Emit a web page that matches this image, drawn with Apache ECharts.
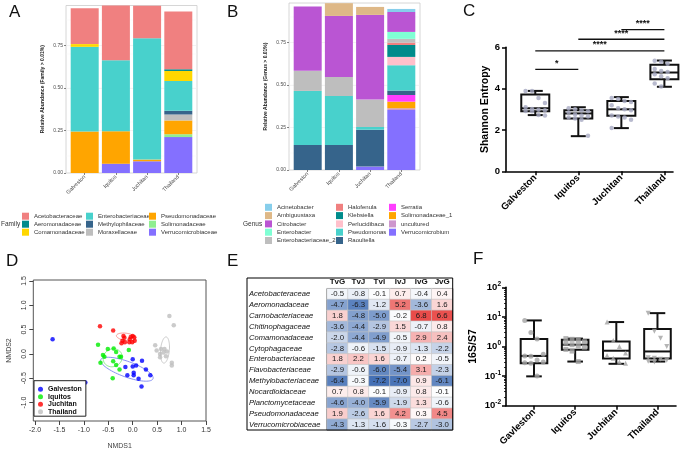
<!DOCTYPE html>
<html>
<head>
<meta charset="utf-8">
<script src="https://cdn.jsdelivr.net/npm/echarts@6/dist/echarts.min.js"></script>
<style>
  html, body { margin: 0; padding: 0; background: #fff; }
  #chart { width: 685px; height: 451px; }
</style>
</head>
<body>
<div id="chart"></div>
<script>
const FONT = "Liberation Sans, Arial, sans-serif";

const sites = ["Galveston", "Iquitos", "Juchitan", "Thailand"];
const sitesF = ["Gavleston", "Iquitos", "Juchitan", "Thailand"];
const siteTicks = [0, 1, 2, 3];

// A: family relative abundance, bottom -> top of each stack
const families = ["Verrucomicrobiaceae", "Solimonadaceae", "Pseudomonadaceae", "Moraxellaceae",
  "Methylophilaceae", "Enterobacteriaceae", "Comamonadaceae", "Aeromonadaceae", "Acetobacteraceae"];
const familyColors = ["#8470FF", "#90EE90", "#FFA500", "#BEBEBE", "#36648B", "#48D1CC", "#FFD700", "#008B8B", "#F08080"];
const familyValues = [
  [0, 0.055, 0.069, 0.211],
  [0, 0, 0, 0.017],
  [0.244, 0.191, 0.010, 0.081],
  [0, 0, 0, 0.035],
  [0, 0, 0, 0.022],
  [0.498, 0.417, 0.714, 0.175],
  [0.016, 0, 0, 0.059],
  [0, 0, 0, 0.010],
  [0.211, 0.325, 0.191, 0.339]
];

// B: genus relative abundance, bottom -> top
const genera = ["Verrucomicrobium", "uncultured", "Solimonadaceae_1", "Serratia", "Raoultella", "Pseudomonas",
  "Perlucidibaca", "Klebsiella", "Halofenula", "Enterobacteriaceae_2", "Enterobacter", "Citrobacter",
  "Ambiguustaxa", "Acinetobacter"];
const genusColors = ["#8470FF", "#CD96CD", "#FFA500", "#FF3EFF", "#36648B", "#48D1CC", "#FFC0CB", "#008B8B",
  "#F08080", "#BEBEBE", "#7FFFD4", "#BA55D3", "#DEB887", "#87CEEB"];
const genusValues = [
  [0, 0, 0.020, 0.353],
  [0, 0, 0, 0.010],
  [0, 0, 0, 0.039],
  [0, 0, 0, 0.039],
  [0.147, 0.147, 0.217, 0.026],
  [0.318, 0.288, 0.016, 0.149],
  [0, 0, 0, 0.049],
  [0, 0, 0, 0.070],
  [0, 0, 0, 0.014],
  [0.118, 0.112, 0.161, 0.022],
  [0, 0, 0, 0.041],
  [0.378, 0.359, 0.498, 0.117],
  [0, 0.075, 0.047, 0],
  [0, 0, 0, 0.018]
];
const abundanceTicks = [0, 0.25, 0.5, 0.75];

// C: Shannon entropy  [min, q1, median, q3, max]
const shannonStats = [
  [2.72, 2.91, 3.05, 3.72, 3.89],
  [1.70, 2.56, 2.80, 2.96, 3.10],
  [2.09, 2.69, 3.00, 3.40, 3.59],
  [4.09, 4.46, 4.78, 5.15, 5.36]
];
const shannonPoints = [
  [3.88, 3.88, 3.55, 3.30, 3.10, 3.02, 2.98, 2.95, 2.92, 2.90, 2.72, 2.70],
  [3.05, 3.00, 2.95, 2.90, 2.85, 2.75, 2.70, 2.65, 2.60, 2.55, 2.50, 1.72],
  [3.55, 3.50, 3.40, 3.35, 3.20, 3.05, 3.00, 2.95, 2.70, 2.65, 2.60, 2.50, 2.10],
  [5.35, 5.30, 5.20, 5.05, 4.95, 4.85, 4.80, 4.75, 4.70, 4.60, 4.50, 4.35, 4.25, 4.10]
];
const sigFrom = [0, 0, 1, 2];
const sigTo = [1, 3, 3, 3];
const sigLevel = [4.93, 5.83, 6.39, 6.86];
const sigText = ["*", "****", "****", "****"];

// D: NMDS ordination
const nmdsGalveston = [[-1.64, 0.30], [-0.97, -0.59], [0.0, -0.11], [0.19, -0.14], [-0.15, -0.27], [0.0, -0.26],
  [0.07, -0.24], [0.27, -0.32], [-0.11, -0.44], [0.02, -0.39], [0.02, -0.44], [0.12, -0.51], [0.36, -0.44], [0.18, -0.67]];
const nmdsIquitos = [[-0.71, 0.19], [-0.51, 0.10], [-0.39, 0.11], [-0.34, 0.04], [-0.61, -0.02], [-0.58, -0.06],
  [-0.27, -0.06], [-0.24, -0.06], [-0.08, 0.08], [-0.66, -0.18], [-0.40, -0.15], [-0.34, -0.23], [-0.27, -0.32], [-0.41, -0.50]];
const nmdsJuchitan = [[-0.67, 0.57], [-0.40, 0.48], [-0.19, 0.37], [-0.17, 0.33], [-0.21, 0.27], [-0.16, 0.24],
  [-0.07, 0.24], [-0.04, 0.35], [0.0, 0.37], [0.03, 0.34], [0.04, 0.27], [-0.01, 0.24], [-0.06, 0.30], [-0.23, 0.22]];
const nmdsThailand = [[0.75, 0.78], [0.84, 0.59], [0.46, 0.18], [0.49, 0.07], [0.58, 0.10], [0.65, 0.10], [0.56, 0.0],
  [0.63, 0.03], [0.70, 0.05], [0.56, -0.07], [0.68, -0.05], [0.80, -0.18], [0.80, -0.24]];
const nmdsColors = ["#0000FF", "#00EE00", "#FF0000", "#BEBEBE"];
const ellipseColors = ["#7b86f0", "#7de87d", "#f58a8a", "#c4c4c4"];
// [centre x, centre y, semi-axis a, semi-axis b, angle deg]
const nmdsEllipses = [
  [-0.12, -0.315, 0.57, 0.16, -20],
  [-0.41, -0.08, 0.20, 0.18, 30],
  [-0.135, 0.35, 0.20, 0.075, -8],
  [0.66, 0.08, 0.27, 0.09, 85]
];
const nmdsTicksX = [-2, -1.5, -1, -0.5, 0, 0.5, 1, 1.5];
const nmdsTicksY = [-1, -0.5, 0, 0.5, 1, 1.5];

// E: log fold-change table
const tableCols = ["TvG", "TvJ", "TvI", "IvJ", "IvG", "JvG"];
const tableRows = ["Acetobacteraceae", "Aeromonadaceae", "Carnobacteriaceae", "Chitinophagaceae", "Comamonadaceae",
  "Cytophagaceae", "Enterobacteriaceae", "Flavobacteriaceae", "Methylobacteriaceae", "Nocardioidaceae",
  "Planctomycetaceae", "Pseudomonadaceae", "Verrucomicrobiaceae"];
const tableValues = [
  [-0.5, -0.8, -0.1, 0.7, -0.4, 0.4],
  [-4.7, -6.3, -1.2, 5.2, -3.6, 1.6],
  [1.8, -4.8, -5.0, -0.2, 6.8, 6.6],
  [-3.6, -4.4, -2.9, 1.5, -0.7, 0.8],
  [-2.0, -4.4, -4.9, -0.5, 2.9, 2.4],
  [-2.8, -0.6, -1.5, -0.9, -1.3, -2.2],
  [1.8, 2.2, 1.6, -0.7, 0.2, -0.5],
  [-2.9, -0.6, -6.0, -5.4, 3.1, -2.3],
  [-6.4, -0.3, -7.2, -7.0, 0.9, -6.1],
  [0.7, 0.8, -0.1, -0.9, 0.8, -0.1],
  [-4.6, -4.0, -5.9, -1.9, 1.3, -0.6],
  [1.9, -2.6, 1.6, 4.2, 0.3, 4.5],
  [-4.3, -1.3, -1.6, -0.3, -2.7, -3.0]
];

// F: 16S/S7 ratio  [min, q1, median, q3, max]
const ratioStats = [
  [0.098, 0.27, 0.48, 1.78, 7.6],
  [0.31, 0.78, 1.15, 1.70, 1.85],
  [0.26, 0.39, 0.72, 1.48, 6.7],
  [0.31, 0.39, 0.68, 3.87, 13.4]
];
const ratioPoints = [
  [7.5, 3.0, 1.8, 0.55, 0.48, 0.47, 0.35, 0.30, 0.28, 0.27, 0.10],
  [1.85, 1.75, 1.60, 1.45, 1.30, 1.15, 1.05, 0.95, 0.80, 0.70, 0.31],
  [6.7, 1.6, 1.0, 0.60, 0.50, 0.40, 0.30, 0.27],
  [13.4, 3.3, 1.9, 1.0, 0.42, 0.40, 0.37, 0.34, 0.32, 0.30]
];
const ratioSymbols = ["circle", "rect", "triangle", "path://M0,0 L10,0 L5,9 Z"];

// ---------- helpers ----------
// bars live in grids 6 and 7 (category axes), panels 0 and 1 carry frame + labels
function stacked(names, colors, values, axis) {
  return names.map((n, k) => ({
    type: "bar", name: n, stack: "s" + axis, xAxisIndex: axis, yAxisIndex: axis,
    barWidth: 28, itemStyle: { color: colors[k] },
    data: values[k]
  }));
}

function boxSeries(stats, axis, halfBox, halfCap) {
  return {
    type: "custom", xAxisIndex: axis, yAxisIndex: axis, z: 3,
    encode: { x: 0, y: [1, 2, 3, 4, 5] },
    data: stats.map((s, i) => [i].concat(s)),
    renderItem(params, api) {
      const x = api.value(0);
      const p = [1, 2, 3, 4, 5].map((d) => api.coord([x, api.value(d)]));
      const cx = p[0][0];
      const st = { stroke: "#111", lineWidth: 2 };
      const ln = (x1, y1, x2, y2) => ({ type: "line", shape: { x1, y1, x2, y2 }, style: st });
      return {
        type: "group", children: [
          { type: "rect", shape: { x: cx - halfBox, y: p[3][1], width: halfBox * 2, height: p[1][1] - p[3][1] },
            style: { stroke: "#111", lineWidth: 2, fill: "none" } },
          ln(cx - halfBox, p[2][1], cx + halfBox, p[2][1]),
          ln(cx, p[3][1], cx, p[4][1]),
          ln(cx, p[1][1], cx, p[0][1]),
          ln(cx - halfCap, p[4][1], cx + halfCap, p[4][1]),
          ln(cx - halfCap, p[0][1], cx + halfCap, p[0][1])
        ]
      };
    }
  };
}

function spread(groups, step) {
  const out = [];
  groups.forEach((vals, g) => vals.forEach((v, i) => out.push([g + ((i % 4) - 1.5) * step, v, g])));
  return out;
}

const series = [];
series.push(...stacked(families, familyColors, familyValues, 6));
series.push(...stacked(genera, genusColors, genusValues, 7));

// C
series.push(boxSeries(shannonStats, 2, 14, 7.5));
series.push({
  type: "scatter", name: "shannonPts", xAxisIndex: 2, yAxisIndex: 2, z: 4,
  symbolSize: 4.5, itemStyle: { color: "#a6a9c2" },
  data: spread(shannonPoints, 0.15)
});
series.push({
  type: "custom", xAxisIndex: 2, yAxisIndex: 2, clip: false,
  encode: { x: [0, 1], y: 2 },
  data: sigFrom.map((f, i) => [f, sigTo[i], sigLevel[i], i]),
  renderItem(params, api) {
    const a = api.coord([api.value(0), api.value(2)]);
    const b = api.coord([api.value(1), api.value(2)]);
    return {
      type: "group", children: [
        { type: "line", shape: { x1: a[0], y1: a[1], x2: b[0], y2: b[1] }, style: { stroke: "#111", lineWidth: 1.3 } },
        { type: "text", style: { text: sigText[api.value(3)], x: (a[0] + b[0]) / 2, y: a[1] - 1.5,
          align: "center", verticalAlign: "bottom", font: "bold 9px " + FONT, fill: "#111" } }
      ]
    };
  }
});

// D
[nmdsGalveston, nmdsIquitos, nmdsJuchitan, nmdsThailand].forEach((pts, i) => {
  series.push({
    type: "scatter", name: sites[i], xAxisIndex: 3, yAxisIndex: 3, symbolSize: 4.5,
    itemStyle: { color: nmdsColors[i] }, data: pts
  });
});
series.push({
  type: "custom", xAxisIndex: 3, yAxisIndex: 3, encode: { x: 0, y: 1 },
  data: nmdsEllipses,
  renderItem(params, api) {
    const cx = api.value(0), cy = api.value(1), a = api.value(2), b = api.value(3);
    const ang = api.value(4) * Math.PI / 180;
    const pts = [];
    for (let k = 0; k <= 72; k++) {
      const t = k / 72 * 2 * Math.PI;
      const ex = a * Math.cos(t), ey = b * Math.sin(t);
      pts.push(api.coord([cx + ex * Math.cos(ang) - ey * Math.sin(ang), cy + ex * Math.sin(ang) + ey * Math.cos(ang)]));
    }
    return { type: "polyline", shape: { points: pts }, style: { stroke: ellipseColors[params.dataIndex], fill: null, lineWidth: 0.9 } };
  }
});

// E
const heatIndex = series.length;
const heatData = [];
tableValues.forEach((row, r) => row.forEach((v, c) => heatData.push([c, r, v])));
series.push({
  type: "heatmap", xAxisIndex: 4, yAxisIndex: 4, data: heatData,
  itemStyle: { borderColor: "#c4c4c4", borderWidth: 0.6 },
  label: { show: true, formatter: (p) => p.value[2].toFixed(1), fontSize: 7.8, color: "#1a1a1a", fontFamily: FONT },
  emphasis: { disabled: true }
});

// F
series.push(boxSeries(ratioStats, 5, 13.3, 7.8));
ratioPoints.forEach((vals, g) => {
  series.push({
    type: "scatter", name: "ratio" + g, xAxisIndex: 5, yAxisIndex: 5, z: 4,
    symbol: ratioSymbols[g], symbolSize: 5, itemStyle: { color: "#a3a3a3" },
    data: spread([vals], 0.15).map((d) => [d[0] + g, d[1]])
  });
});

// ---------- axes ----------
function abundanceX(grid) {
  return {
    gridIndex: grid, type: "value", min: -0.6, max: 3.6,
    axisLine: { show: false, onZero: false }, splitLine: { show: false },
    axisTick: { customValues: siteTicks, length: 2, lineStyle: { color: "#333", width: 0.6 } },
    axisLabel: { customValues: siteTicks, formatter: (v) => sites[v], rotate: 45, fontSize: 5.5,
      color: "#4d4d4d", margin: 3, fontFamily: FONT }
  };
}
function abundanceY(grid, max, title, gap) {
  return {
    gridIndex: grid, type: "value", min: 0, max: max,
    name: title, nameLocation: "middle", nameGap: gap,
    nameTextStyle: { fontSize: 5, fontWeight: "bold", color: "#1a1a1a", fontFamily: FONT },
    axisLine: { show: false, onZero: false },
    axisTick: { show: true, customValues: abundanceTicks, length: 2, lineStyle: { color: "#333", width: 0.6 } },
    axisLabel: { customValues: abundanceTicks, formatter: (v) => v.toFixed(2), fontSize: 5, color: "#4d4d4d",
      margin: 3, fontFamily: FONT },
    splitLine: { lineStyle: { color: "#ebebeb", width: 0.6 } },
    minorTick: { show: false, splitNumber: 2 },
    minorSplitLine: { show: true, lineStyle: { color: "#f5f5f5", width: 0.4 } }
  };
}
function barX(grid) {
  return { gridIndex: grid, type: "category", data: sites, show: false };
}
function barY(grid, max) {
  return { gridIndex: grid, type: "value", min: 0, max: max, show: false, splitLine: { show: false } };
}
const prismLine = { onZero: false, lineStyle: { color: "#000", width: 1.6 } };
function prismX(grid, names, min, max) {
  return {
    gridIndex: grid, type: "value", min: min, max: max,
    axisLine: prismLine, splitLine: { show: false },
    axisTick: { customValues: siteTicks, length: 4, lineStyle: { color: "#000", width: 1.5 } },
    axisLabel: { customValues: siteTicks, formatter: (v) => names[v], rotate: 45, fontSize: 9.5,
      fontWeight: "bold", color: "#000", margin: 5, fontFamily: FONT }
  };
}

const option = {
  animation: false,
  backgroundColor: "#fff",
  textStyle: { fontFamily: FONT },
  grid: [
    { left: 66, top: 5.5, width: 131, height: 167.5, show: true, borderColor: "#cccccc", borderWidth: 0.8 },
    { left: 289, top: 3, width: 131, height: 167, show: true, borderColor: "#cccccc", borderWidth: 0.8 },
    { left: 506, top: 47.3, width: 167, height: 124 },
    { left: 33.3, top: 280, width: 172.7, height: 142, show: true, borderColor: "#555", borderWidth: 1 },
    { left: 327, top: 288.6, width: 125.7, height: 141.4, show: true, borderColor: "#000", borderWidth: 1 },
    { left: 506, top: 287.3, width: 170, height: 118.4 },
    { left: 69.1, top: 5.5, width: 124.8, height: 167.5 },
    { left: 292.1, top: 3, width: 124.8, height: 167 }
  ],
  xAxis: [
    abundanceX(0),
    abundanceX(1),
    prismX(2, sites, -0.68, 3.2),
    {
      gridIndex: 3, type: "value", min: -2.035, max: 1.5,
      axisLine: { show: false, onZero: false }, splitLine: { show: false },
      axisTick: { customValues: nmdsTicksX, length: 4, lineStyle: { color: "#444" } },
      axisLabel: { customValues: nmdsTicksX, formatter: (v) => v.toFixed(1), fontSize: 7, color: "#333", margin: 6, fontFamily: FONT },
      name: "NMDS1", nameLocation: "middle", nameGap: 22,
      nameTextStyle: { fontSize: 7, color: "#444", fontFamily: FONT }
    },
    {
      gridIndex: 4, type: "category", data: tableCols, position: "top",
      axisLine: { show: false }, axisTick: { show: false }, splitLine: { show: false },
      axisLabel: { fontSize: 8, fontWeight: "bold", color: "#111", margin: 2.5, fontFamily: FONT }
    },
    prismX(5, sitesF, -0.68, 3.45),
    barX(6),
    barX(7)
  ],
  yAxis: [
    abundanceY(0, 0.985, "Relative Abundance (Family > 0.01%)", 21),
    abundanceY(1, 0.982, "Relative Abundance (Genus > 0.01%)", 21),
    {
      gridIndex: 2, type: "value", min: 0, max: 6, interval: 2,
      axisLine: Object.assign({ show: true }, prismLine), splitLine: { show: false },
      axisTick: { show: true, length: 4, lineStyle: { color: "#000", width: 1.5 } },
      axisLabel: { fontSize: 9.5, fontWeight: "bold", color: "#000", margin: 6, fontFamily: FONT },
      name: "Shannon Entropy", nameLocation: "middle", nameGap: 14,
      nameTextStyle: { fontSize: 10.5, fontWeight: "bold", color: "#000", fontFamily: FONT }
    },
    {
      gridIndex: 3, type: "value", min: -1.38, max: 1.52,
      axisLine: { show: false, onZero: false }, splitLine: { show: false },
      axisTick: { customValues: nmdsTicksY, length: 4, lineStyle: { color: "#444" } },
      axisLabel: { customValues: nmdsTicksY, formatter: (v) => v.toFixed(1), rotate: 90, fontSize: 7, color: "#333",
        margin: 6, fontFamily: FONT },
      name: "NMDS2", nameLocation: "middle", nameGap: 21,
      nameTextStyle: { fontSize: 7, color: "#444", fontFamily: FONT }
    },
    {
      gridIndex: 4, type: "category", data: tableRows, inverse: true,
      axisLine: { show: false }, axisTick: { show: false }, splitLine: { show: false },
      axisLabel: { align: "left", margin: 78, fontSize: 7.6, fontStyle: "italic", color: "#111", fontFamily: FONT }
    },
    {
      gridIndex: 5, type: "log", logBase: 10, min: 0.01, max: 100,
      axisLine: Object.assign({ show: true }, prismLine), splitLine: { show: false },
      axisTick: { show: true, length: 4, lineStyle: { color: "#000", width: 1.5 } },
      minorTick: { show: true, splitNumber: 9, length: 2, lineStyle: { color: "#000", width: 0.8 } },
      axisLabel: {
        margin: 5,
        formatter: (v) => "{b|10}{s|" + Math.round(Math.log10(v)) + "}",
        rich: {
          b: { fontSize: 9.5, fontWeight: "bold", color: "#000", fontFamily: FONT },
          s: { fontSize: 6.5, fontWeight: "bold", color: "#000", fontFamily: FONT, padding: [0, 0, 6, 0] }
        }
      },
      name: "16S/S7", nameLocation: "middle", nameGap: 27,
      nameTextStyle: { fontSize: 10.5, fontWeight: "bold", color: "#000", fontFamily: FONT }
    },
    barY(6, 0.985),
    barY(7, 0.982)
  ],
  visualMap: {
    type: "continuous", show: false, seriesIndex: heatIndex, dimension: 2,
    min: -7.2, max: 7.2, inRange: { color: ["#4470b5", "#ffffff", "#e8413f"] }
  },
  legend: [],
  graphic: [],
  series: series
};

// legends for A and B, one per column
function legendCol(names, left, top, gap) {
  return {
    data: names, left: left, top: top, orient: "vertical", icon: "rect", itemWidth: 7, itemHeight: 7,
    itemGap: gap, padding: 0, selectedMode: false,
    textStyle: { fontSize: 6, color: "#333", fontFamily: FONT }
  };
}
const famSorted = families.slice().sort();
const genSorted = genera.slice().sort((a, b) => a.toLowerCase().localeCompare(b.toLowerCase()));
option.legend.push(legendCol(famSorted.slice(0, 3), 22, 212.7, 1));
option.legend.push(legendCol(famSorted.slice(3, 6), 86, 212.7, 1));
option.legend.push(legendCol(famSorted.slice(6, 9), 149, 212.7, 1));
option.legend.push(legendCol(genSorted.slice(0, 5), 265, 203.8, 1.3));
option.legend.push(legendCol(genSorted.slice(5, 10), 336, 203.8, 1.3));
option.legend.push(legendCol(genSorted.slice(10), 389, 203.8, 1.3));
option.legend.push({
  data: sites, left: 34, top: 380.7, orient: "vertical", icon: "circle", itemWidth: 5, itemHeight: 5,
  itemGap: 0.5, padding: [5, 4, 1, 4], borderColor: "#222", borderWidth: 1, backgroundColor: "#fff",
  selectedMode: false, textStyle: { fontSize: 7, fontWeight: "bold", color: "#111", fontFamily: FONT }
});

// panel letters, legend titles, table frame
const letters = [["A", 9, 12.5], ["B", 227, 12.5], ["C", 463, 11.5], ["D", 6, 261], ["E", 227, 261], ["F", 473, 259]];
letters.forEach((l) => option.graphic.push({
  type: "text", style: { text: l[0], x: l[1], y: l[2], verticalAlign: "middle", font: "17px " + FONT, fill: "#111" }
}));
option.graphic.push({ type: "text", style: { text: "Family", x: 1, y: 224.5, verticalAlign: "middle", font: "6.5px " + FONT, fill: "#333" } });
option.graphic.push({ type: "text", style: { text: "Genus", x: 243, y: 224, verticalAlign: "middle", font: "6.5px " + FONT, fill: "#333" } });
option.graphic.push({
  type: "rect", shape: { x: 247, y: 278, width: 205.7, height: 152 },
  style: { fill: "none", stroke: "#000", lineWidth: 1 }, z: 100
});

const chart = echarts.init(document.getElementById("chart"), null, { renderer: "canvas" });
chart.setOption(option);
</script>
</body>
</html>
